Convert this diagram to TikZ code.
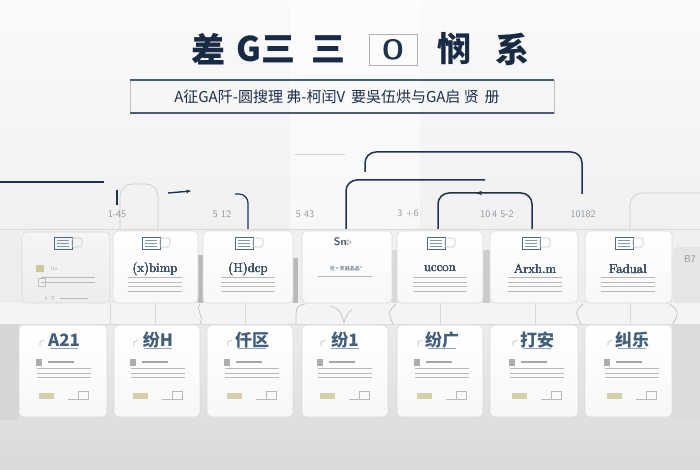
\documentclass[tikz,border=0pt]{standalone}
\usepackage{fontspec}
\newfontfamily\cjk{Noto Sans CJK SC}
\usetikzlibrary{arrows.meta}
\definecolor{navy}{HTML}{1E3350}
\definecolor{labelgray}{HTML}{8E969E}
\definecolor{iconblue}{HTML}{4A6A88}
\definecolor{olive}{HTML}{B8B070}
\tikzset{
  card/.style={draw=gray!28, line width=.6pt, rounded corners=5pt, top color=white, bottom color=gray!6},
  bracket/.style={draw=navy, line width=1.5pt, rounded corners=11pt},
  faint/.style={draw=gray!40, line width=.7pt},
  numlabel/.style={text=labelgray, font=\sffamily\fontsize{10}{10}\selectfont},
  cardtitle/.style={text=navy!85, font=\fontsize{13}{13}\selectfont},
  rowtitle/.style={text=iconblue!90!black, font=\cjk\bfseries\fontsize{17}{17}\selectfont},
  glyph/.style={text=navy!85!black, font=\cjk\bfseries\fontsize{34}{34}\selectfont, inner sep=0pt}
}
% tiny unreadable lines of a card, centred at x, first line at y
\newcommand{\txtlines}[3]{%
  \foreach \k in {1,...,#3}
    \fill[gray!55] ({#1-27},{#2+(\k-1)*4.6}) rectangle ({#1+27},{#2+(\k-1)*4.6+1.2});
}
% small sketch on top of a card
\newcommand{\cardicon}[2]{%
  \draw[iconblue, line width=.7pt] ({#1-13},{#2-6}) rectangle ({#1+5},{#2+6});
  \foreach \k in {-3,0,3} \draw[iconblue!70, line width=.5pt] ({#1-10},{#2+\k}) -- ({#1+2},{#2+\k});
  \draw[gray!45, line width=.6pt, rounded corners=2pt] ({#1+5},{#2-5}) rectangle ({#1+15},{#2+4});
}
\begin{document}
\begin{tikzpicture}[x=1pt, y=-1pt]
  \useasboundingbox (0,0) rectangle (700,470);
  % background
  \shade[top color=gray!4, bottom color=gray!14] (0,0) rectangle (700,305);
  \fill[white, opacity=.5] (290,0) rectangle (420,230);
  \shade[top color=gray!14, bottom color=gray!30] (0,305) rectangle (700,470);
  \fill[gray!32] (0,325) rectangle (19,420);
  \fill[gray!28] (672,325) rectangle (700,420);

  % title
  \foreach \x/\g in {208/差, 266/G三, 328/三, 454/悯, 512/系}
    \node[glyph] (t\x) at (\x,49) {\g};
  \node[draw=gray!60, line width=.8pt, minimum width=48pt, minimum height=31pt, inner sep=0pt,
        text=navy, font=\sffamily\bfseries\fontsize{28}{28}\selectfont] (tbox) at (393,50) {O};

  % subtitle box
  \draw[gray!50, line width=.5pt] (130,80) rectangle (554,113);
  \draw[navy!80, line width=1.1pt] (130,80) -- (554,80) (130,113) -- (554,113);
  \node[text=navy!90!black, font=\cjk\fontsize{15}{15}\selectfont] (sub) at (337,97)
    {A征GA阡-圆搜理 弗-柯闰V\, 要吳伍烘与GA启 贤\, 册};

  % timeline marks
  \draw[navy, line width=1.5pt] (0,182) -- (104,182);
  \draw[navy, line width=1.2pt] (117,190) -- (117,205);
  \draw[faint, rounded corners=12pt] (120,229) -- (120,184) -- (158,184) -- (158,229);
  \draw[navy, line width=1.4pt, -{Stealth[length=5pt]}] (168,193) -- (191,191);
  \draw[navy, line width=1.2pt, rounded corners=9pt] (235,194) -- (248,194) -- (248,229);
  \draw[gray!35, line width=.8pt] (295,154) -- (345,154);
  \draw[bracket] (365,172) -- (365,152) -- (582,152) -- (582,194);
  \draw[bracket] (346,229) -- (346,180) -- (485,180);
  \draw[bracket] (438,229) -- (438,193) -- (532,193) -- (532,229);
  \draw[navy, -{Stealth[length=6pt]}, line width=1pt] (484,193) -- (476,193);
  \draw[faint, rounded corners=12pt] (630,229) -- (630,193) -- (700,193);

  % step numbers
  \foreach \x/\n in {117/1-45, 222/5\ 12, 305/5\ 43, 408/3\ +6, 497/10\,4\ 5-2, 583/10182}
    \node[numlabel] (n\x) at (\x,214) {\n};

  % bands
  \draw[gray!30, line width=.6pt] (0,229) -- (700,229);
  \fill[gray!9] (0,303) rectangle (700,324);
  \draw[gray!30, line width=.6pt] (0,324) -- (700,324);
  \foreach \x in {110,155,245,440,535,630}
    \draw[gray!30, line width=.5pt] (\x,303) -- (\x,324);
  \draw[gray!50, line width=.7pt] (200,304) .. controls (195,312) and (205,315) .. (200,324);
  \draw[gray!50, line width=.7pt] (305,304) .. controls (296,306) .. (296,324);
  \draw[gray!50, line width=.7pt] (330,306) .. controls (340,310) .. (344,322) .. controls (346,316) .. (352,309);
  \draw[gray!50, line width=.7pt] (396,304) .. controls (388,312) .. (393,324);
  \draw[gray!50, line width=.7pt] (583,304) .. controls (575,312) .. (581,324);
  \draw[gray!50, line width=.7pt] (670,304) .. controls (679,312) .. (673,324);

  % dark strips between top cards
  \fill[gray!55] (198,255) rectangle (203,303);
  \fill[gray!55] (293,258) rectangle (298,303);
  \fill[gray!30] (392,250) rectangle (397,303);
  \fill[gray!40] (483,250) rectangle (490,303);

  % top row of cards
  \fill[gray!14, rounded corners=5pt] (-6,232) rectangle (20,300);
  \fill[gray!20, rounded corners=5pt] (673,247) rectangle (706,303);
  \node[numlabel] (b7) at (690,259) {B7};
  \draw[card, top color=gray!8, bottom color=gray!14] (22,232) rectangle (110,303);
  \foreach \a/\b in {113/198, 203/293, 302/392, 397/483, 490/578, 585/672}
    \draw[card] (\a,231) rectangle (\b,303);
  \foreach \x in {67,155,248,440,535,628}
    \cardicon{\x}{243}
  \foreach \x/\t in {155/(x)bimp, 248/(H)dcp, 440/uccon, 535/Arxh.m, 628/Fadual}
    \node[cardtitle] (ct\x) at (\x,269) {\t};
  \foreach \x in {155,248,440,535,628}
    \txtlines{\x}{277}{4}
  % first and fourth top cards
  \fill[olive!70] (36,265) rectangle (44,272);
  \node[text=gray!60, font=\sffamily\fontsize{5}{5}\selectfont] (hu) at (54,269) {Hu};
  \draw[gray!50, line width=.5pt] (38,278) rectangle (45,286);
  \txtlines{68}{277}{2}
  \node[text=gray!55, font=\cjk\fontsize{5}{5}\selectfont] (a1) at (50,298) {A. 芒};
  \draw[gray!55, line width=.6pt] (60,298) -- (88,298);
  \node[text=navy!80, font=\sffamily\bfseries\fontsize{11}{11}\selectfont] (sn) at (343,242) {Sn$\triangleright$};
  \node[text=navy!80, font=\cjk\fontsize{5}{5}\selectfont] (c4l) at (346,269) {呾 = 蒸器晶晶*};
  \fill[gray!55] (318,276) rectangle (372,277.2);

  % bottom row of cards
  \foreach \a/\b in {19/107, 114/200, 207/293, 302/388, 397/483, 490/578, 585/672}
    \draw[card] (\a,325) rectangle (\b,417);
  \foreach \x/\t in {64/A21, 158/纷H, 252/仟区, 345/纷1, 442/纷广, 537/打安, 632/纠乐}{
    \node[rowtitle] (rt\x) at (\x,340) {\t};
    \draw[gray!55, line width=.6pt] ({\x-24},346) -- ({\x-24},342) -- ({\x-20},340);
    \draw[iconblue!60, line width=.5pt] ({\x-14},348) -- ({\x+14},348);
    \fill[gray!65] ({\x-28},359) rectangle ({\x-22},366);
    \fill[gray!70] ({\x-16},361) rectangle ({\x+10},363);
    \txtlines{\x}{368}{3}
    \fill[olive!60] ({\x-25},393) rectangle ({\x-10},399);
    \draw[gray!55, line width=.5pt] ({\x+14},391) rectangle ({\x+24},399);
    \draw[gray!55, line width=.5pt] ({\x+4},399) -- ({\x+14},399);
  }
\end{tikzpicture}
\end{document}
